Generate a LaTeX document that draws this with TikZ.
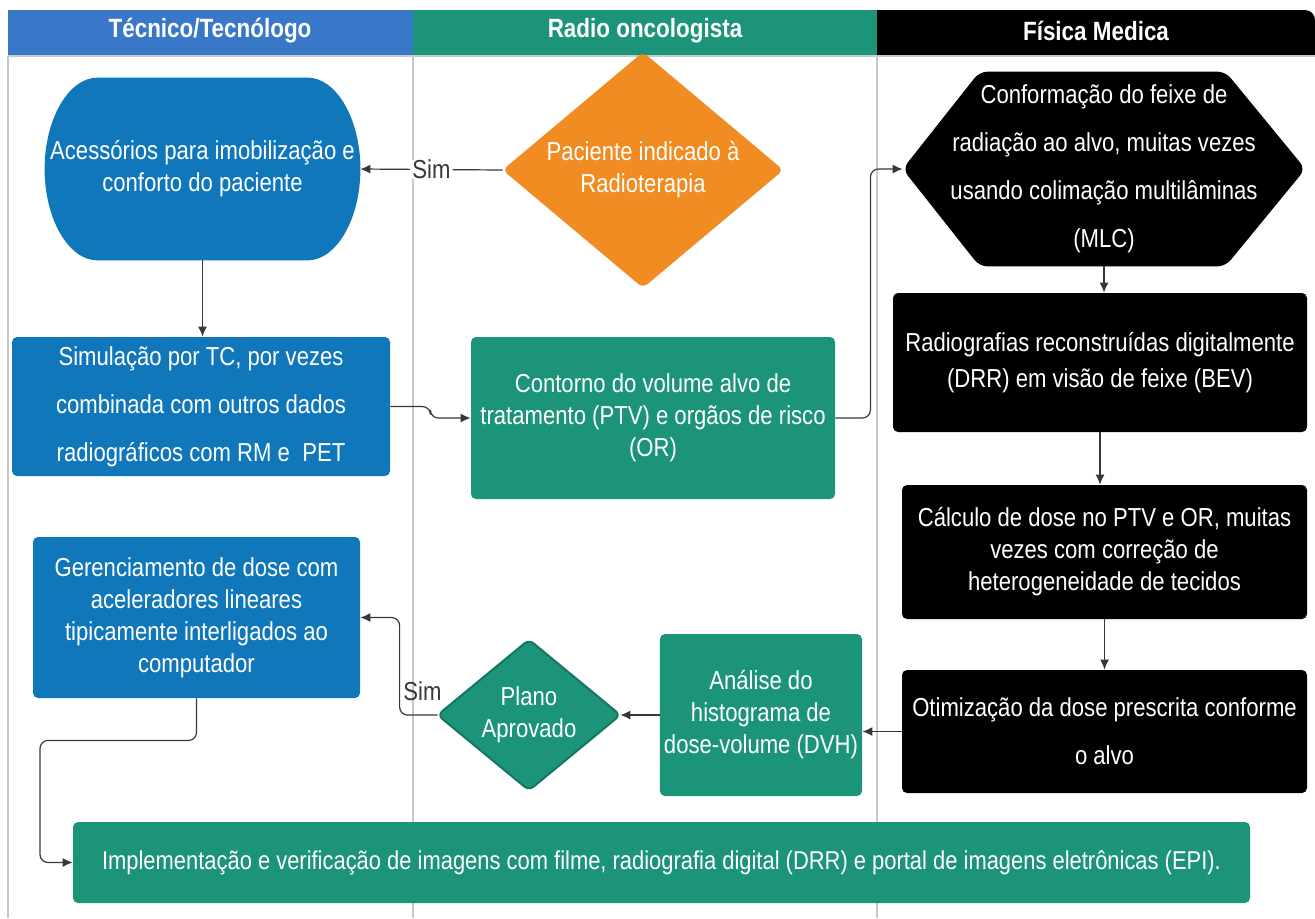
\documentclass[tikz,border=0pt]{standalone}
\usepackage{fontspec}
\setmainfont{Liberation Sans}[FakeStretch=0.85]
\usepackage{tikz}
\usetikzlibrary{arrows.meta,backgrounds,calc}
\definecolor{headblue}{RGB}{57,120,200}
\definecolor{boxblue}{RGB}{17,119,187}
\definecolor{boxteal}{RGB}{28,148,122}
\definecolor{darkteal}{RGB}{20,118,98}
\definecolor{boxorange}{RGB}{240,140,34}
\definecolor{lanegray}{RGB}{200,200,200}
\definecolor{linkgray}{RGB}{55,55,55}
\newcommand{\boxfont}{\fontsize{13}{16}\selectfont}
\tikzstyle{bluebox}=[fill=boxblue, rounded corners=2.5pt, text=white, align=center, inner sep=2pt, font=\boxfont]
\tikzstyle{tealbox}=[fill=boxteal, rounded corners=2.5pt, text=white, align=center, inner sep=2pt, font=\boxfont]
\tikzstyle{blackbox}=[fill=black, rounded corners=2.5pt, text=white, align=center, inner sep=2pt, font=\boxfont]
\tikzstyle{frame}=[inner sep=0pt, text=white, align=center, font=\boxfont]
\tikzstyle{headtext}=[text=white, font=\fontsize{13.2}{15}\selectfont\bfseries]
\tikzstyle{lane}=[draw=lanegray, line width=0.6pt]
\tikzstyle{link}=[draw=linkgray, line width=0.6pt, -{Latex[length=5pt,width=4.5pt]}, rounded corners=4pt]
\tikzstyle{yeslabel}=[text=linkgray, font=\boxfont, inner sep=1pt]

\begin{document}
\begin{tikzpicture}[x=0.5pt,y=-0.5pt]
	\useasboundingbox (0,0) rectangle (1315,918);
	% lanes and headers
	\begin{scope}[on background layer]
		\fill[headblue] (8,10) rectangle (413,56);
		\fill[boxteal] (413,10) rectangle (877,56);
		\fill[black] (877,56) -- (877,10) [rounded corners=5pt] -- (1315,10) [sharp corners] -- (1315,56) -- cycle;
		\draw[lane] (8,56) -- (1315,56);
		\draw[lane] (8,56) -- (8,918);
		\draw[lane] (413,56) -- (413,918);
		\draw[lane] (877,56) -- (877,918);
	\end{scope}
	\node[headtext] (hTec) at (210,31) {Técnico/Tecnólogo};
	\node[headtext] (hRad) at (645,31) {Radio oncologista};
	\node[headtext] (hFis) at (1096,31) {Física Medica};

	% boxes
	\node[frame, minimum width=157.5pt, minimum height=91pt] (acc) at (202.5,169) {Acessórios para imobilização e\\conforto do paciente};
	\node[frame, minimum width=140pt, minimum height=117.5pt] (pac) at (643,170) {Paciente indicado à\\Radioterapia};
	\node[bluebox, minimum width=189pt, minimum height=69.5pt] (sim) at (201,406.5) {Simulação por TC, por vezes\\[8pt]combinada com outros dados\\[8pt]radiográficos com RM e\ \ PET};
	\node[tealbox, minimum width=182pt, minimum height=81pt] (cont) at (653,418) {Contorno do volume alvo de\\tratamento (PTV) e orgãos de risco\\(OR)};
	\node[frame, minimum width=201pt, minimum height=97pt] (hex) at (1104,169) {Conformação do feixe de\\[8pt]radiação ao alvo, muitas vezes\\[8pt]usando colimação multilâminas\\[8pt](MLC)};
	\node[blackbox, minimum width=207pt, minimum height=69.5pt] (rad) at (1100,362.5) {Radiografias reconstruídas digitalmente\\[2pt](DRR) em visão de feixe (BEV)};
	\node[blackbox, minimum width=202.5pt, minimum height=67pt] (calc) at (1104.5,552) {Cálculo de dose no PTV e OR, muitas\\vezes com correção de\\heterogeneidade de tecidos};
	\node[blackbox, minimum width=202.5pt, minimum height=61.5pt] (oti) at (1104.5,731.5) {Otimização da dose prescrita conforme\\[8pt]o alvo};
	\node[tealbox, minimum width=99pt, minimum height=81pt] (ana) at (761,715) {Análise do\\histograma de\\dose-volume (DVH)};
	\node[frame, minimum width=91pt, minimum height=75pt] (plano) at (529,715) {Plano\\Aprovado};
	\node[bluebox, minimum width=163.5pt, minimum height=80.5pt] (ger) at (196.5,617.5) {Gerenciamento de dose com\\aceleradores lineares\\tipicamente interligados ao\\computador};
	\node[tealbox, minimum width=588.5pt, minimum height=40.5pt, font=\fontsize{12.9}{15}\selectfont] (impl) at (661.5,862.5) {Implementação e verificação de imagens com filme, radiografia digital (DRR) e portal de imagens eletrônicas (EPI).};

	% shaped outlines behind the frames
	\begin{scope}[on background layer]
		\fill[boxblue] ($(acc.north west)+(53,0)$) -- ($(acc.north east)+(-53,0)$)
			.. controls +(29,0) and +(0,-50) .. (acc.east)
			.. controls +(0,50) and +(29,0) .. ($(acc.south east)+(-53,0)$)
			-- ($(acc.south west)+(53,0)$)
			.. controls +(-29,0) and +(0,50) .. (acc.west)
			.. controls +(0,-50) and +(-29,0) .. cycle;
		\fill[boxorange, rounded corners=3pt] (pac.north) -- (pac.east) -- (pac.south) -- (pac.west) -- cycle;
		\fill[black, rounded corners=4pt] (hex.west) -- ($(hex.north west)+(77,0)$) -- ($(hex.north east)+(-80,0)$)
			-- (hex.east) -- ($(hex.south east)+(-80,0)$) -- ($(hex.south west)+(77,0)$) -- cycle;
		\filldraw[fill=boxteal, draw=darkteal, line width=1pt, rounded corners=3pt] (plano.north) -- (plano.east) -- (plano.south) -- (plano.west) -- cycle;
	\end{scope}

	% connectors
	\draw[link] (pac.west) -- node[yeslabel, fill=white] {Sim} (acc.east);
	\draw[link] (acc.south) -- (acc.south |- sim.north);
	\draw[link] (sim.east) -- ++(40,0) |- (cont.west);
	\draw[link] (cont.east) -- ++(35,0) |- (hex.west);
	\draw[link] (hex.south) -- (hex.south |- rad.north);
	\draw[link] (rad.south) -- (rad.south |- calc.north);
	\draw[link] (calc.south) -- (calc.south |- oti.north);
	\draw[link] (oti.west) -- (oti.west -| ana.east);
	\draw[link] (ana.west) -- (ana.west -| plano.east);
	\draw[link] (plano.west) -- node[yeslabel, pos=0.4, above=6pt] {Sim} ++(-38,0) |- (ger.east);
	\draw[link] (ger.south) -- ++(0,42) -- ++(-156.5,0) |- (impl.west);
\end{tikzpicture}
\end{document}
